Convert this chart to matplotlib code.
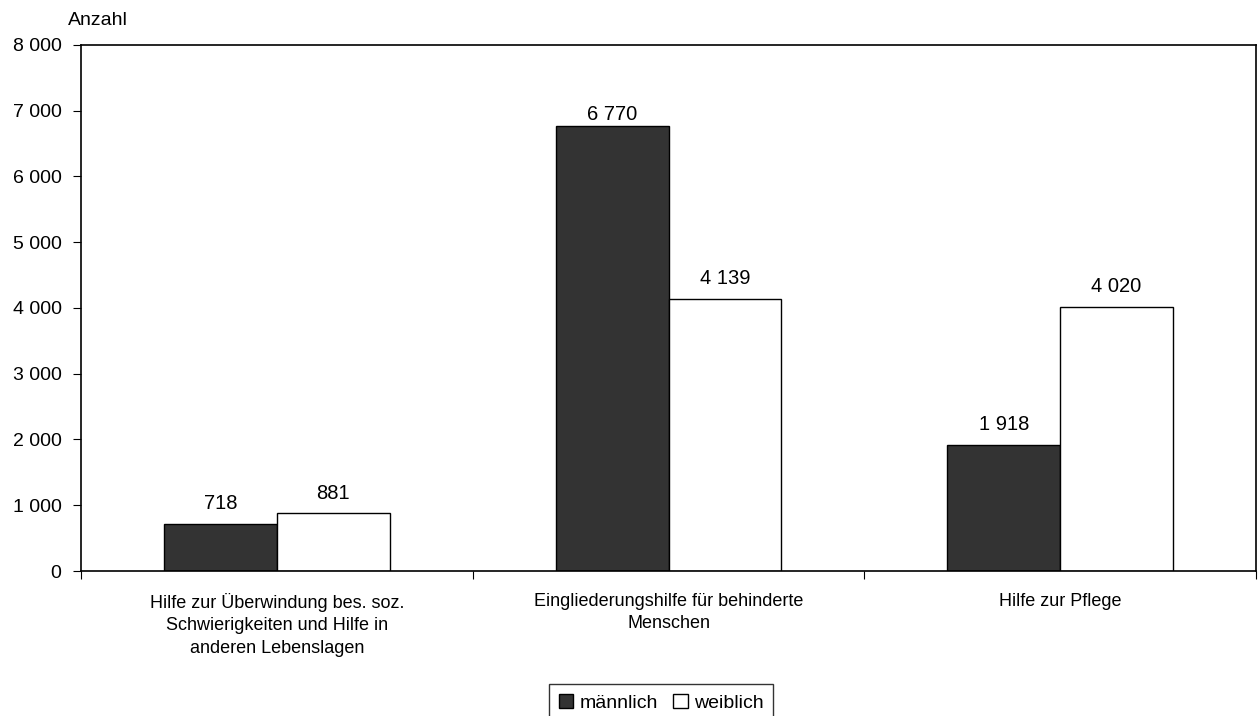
import numpy as np
import matplotlib.pyplot as plt
from matplotlib.patches import Patch

plt.rcParams['font.family'] = ['Liberation Sans', 'DejaVu Sans']

# Daten
categories = ['Hilfe zur Überwindung bes. soz.\nSchwierigkeiten und Hilfe in\nanderen Lebenslagen',
              'Eingliederungshilfe für behinderte\nMenschen',
              'Hilfe zur Pflege']
maennlich = [718, 6770, 1918]
weiblich = [881, 4139, 4020]

def fmt(v):
    return f'{v:,.0f}'.replace(',', ' ')

fig = plt.figure(figsize=(12.58, 7.16), dpi=100)
ax = fig.add_axes([0.0644, 0.2025, 0.934, 0.735])

x = np.arange(len(categories)) + 0.5
w = 0.288
b1 = ax.bar(x - w / 2, maennlich, w, color='#333333', edgecolor='black', linewidth=1)
b2 = ax.bar(x + w / 2, weiblich, w, color='white', edgecolor='black', linewidth=1)

# Beschriftungen (der höchste Balken hat weniger Abstand, wie im Original)
for bars, vals in ((b1, maennlich), (b2, weiblich)):
    for r, v in zip(bars, vals):
        off = 1.5 if v == max(maennlich) else 7.5
        ax.annotate(fmt(v), (r.get_x() + r.get_width() / 2, v),
                    xytext=(0, off), textcoords='offset points',
                    ha='center', va='bottom', fontsize=14.5)

ax.set_xlim(0, 3)
ax.set_ylim(0, 8000)
ax.set_yticks(np.arange(0, 8001, 1000))
ax.set_yticklabels([fmt(v) for v in np.arange(0, 8001, 1000)], fontsize=14)
ax.set_xticks([0, 1, 2, 3])
ax.set_xticklabels([])
ax.set_xticks(x, minor=True)
ax.set_xticklabels(categories, minor=True, fontsize=13, linespacing=1.4)
ax.tick_params(axis='x', which='minor', length=0, pad=16)
ax.tick_params(axis='x', which='major', length=6, direction='out')
ax.tick_params(axis='y', length=6, direction='out', pad=8)
for s in ax.spines.values():
    s.set_linewidth(1.2)

ax.text(-0.011, 1.03, 'Anzahl', transform=ax.transAxes, fontsize=14, ha='left', va='bottom')

handles = [Patch(facecolor='#333333', edgecolor='black'),
           Patch(facecolor='white', edgecolor='black')]
fig.legend(handles, ['männlich', 'weiblich'], loc='upper center', ncol=2,
           bbox_to_anchor=(0.5255, 0.044), frameon=True, fancybox=False,
           edgecolor='black', fontsize=14, handlelength=0.75, handleheight=0.75,
           handletextpad=0.3, columnspacing=0.8, borderpad=0.5, borderaxespad=0)

fig.savefig('out.png', dpi=100)
